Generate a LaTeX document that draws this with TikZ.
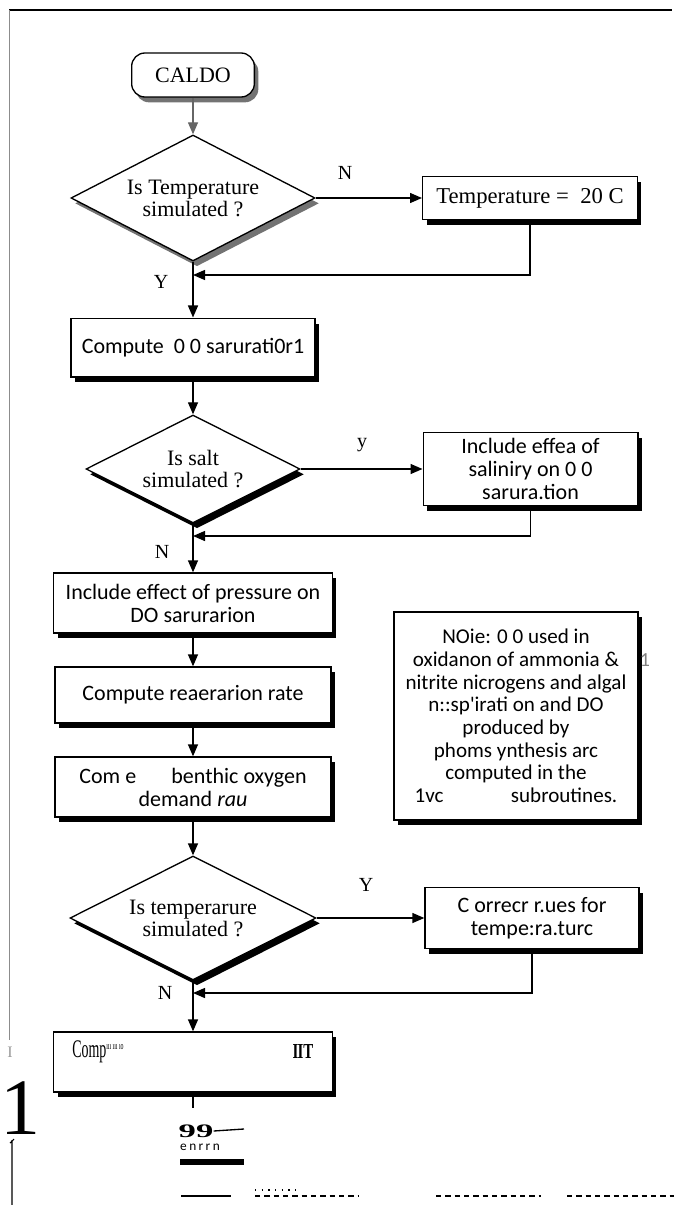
\documentclass[tikz,border=0pt]{standalone}
\usepackage{fontspec}
\setmainfont{Liberation Serif}
\newfontfamily\boxfont{Carlito}
\newfontfamily\spacedfont[LetterSpace=18]{Carlito}
\usepackage{graphicx}
\usetikzlibrary{positioning,shapes.geometric,arrows.meta,shadows}

\tikzset{
  flowline/.style={line width=1pt},
  flowarrow/.style={line width=1pt,-{Triangle[length=9pt,width=7.5pt]}},
  darkshadow/.style={drop shadow={shadow xshift=3pt,shadow yshift=-4pt,fill=black,opacity=1}},
  greyshadow/.style={drop shadow={shadow xshift=3pt,shadow yshift=-4pt,fill=black!55,opacity=1}},
  procbox/.style={draw,line width=1pt,fill=white,darkshadow,align=center,inner sep=0pt,
    font=\boxfont\fontsize{16.5}{17.25}\selectfont},
  decision/.style={diamond,draw,line width=1pt,fill=white,aspect=1.9,inner sep=0pt,align=center,
    font=\fontsize{16.5}{16.5}\selectfont},
  yn/.style={font=\fontsize{15}{16}\selectfont}
}

\begin{document}
\begin{tikzpicture}[x=0.75pt,y=0.75pt,yscale=-1,xscale=1]
\useasboundingbox (0,0) rectangle (684,1205);

%Shape: page frame
\draw [line width=1pt] (9,10) -- (672,10) ;
\draw [black!45,line width=0.6pt] (9,10) -- (9,1040) ;

%Shape: Terminator
\node [draw,line width=1pt,fill=white,rounded corners=10pt,greyshadow,minimum width=92pt,minimum height=33pt,
  font=\fontsize{16.5}{16.5}\selectfont] (caldo) at (193,75) {CALDO};
%Shape: Diamond
\node [decision,greyshadow,minimum width=183pt,minimum height=94.5pt] (temqry) at (193,198) {Is Temperature\\simulated ?};
%Shape: Rectangle
\node [procbox,font=\fontsize{17}{17}\selectfont,minimum width=161pt,minimum height=32pt] (tempset) at (530,198) {Temperature =\ \ 20 C};
\coordinate (jointa) at (193,275);
%Shape: Rectangle
\node [procbox,minimum width=183pt,minimum height=44pt] (dosat) at (193,347.5) {Compute\ \ 0 0 sarurati0r1};
%Shape: Diamond
\node [decision,darkshadow,minimum width=160.5pt,minimum height=81pt] (saltqry) at (193,469) {Is salt\\simulated ?};
%Shape: Rectangle
\node [procbox,minimum width=161pt,minimum height=55pt] (salin) at (530.5,469) {Include effea of\\saliniry on 0 0\\sarura.tion};
\coordinate (jointb) at (193,536);
%Shape: Rectangle
\node [procbox,minimum width=209pt,minimum height=45pt] (press) at (193,603) {Include effect of pressure on\\DO sarurarion};
%Shape: Rectangle
\node [procbox,minimum width=207pt,minimum height=42pt] (reaer) at (193,695) {Compute reaerarion rate};
%Shape: Rectangle
\node [procbox,minimum width=207pt,minimum height=45pt] (benth) at (193,787) {Com e\hspace{1.6em}benthic oxygen\\demand \textit{rau}};
%Shape: Rectangle
\node [procbox,minimum width=183pt,minimum height=156pt,font=\boxfont\fontsize{15.8}{17}\selectfont] (note) at (516,716)
  {NOie: 0 0 used in\\oxidanon of ammonia \&\\nitrite nicrogens and algal\\n::sp'irati on and DO\\produced by\\phoms ynthesis arc\\computed in the\\1vc\hspace{3.2em}subroutines.};
%Shape: Diamond
\node [decision,darkshadow,minimum width=184.5pt,minimum height=93pt] (tempqry) at (193,918) {Is temperarure\\simulated ?};
%Shape: Rectangle
\node [procbox,minimum width=160.5pt,minimum height=46pt] (corr) at (532,918) {C orrecr r.ues for\\tempe:ra.turc};
\coordinate (jointc) at (193,993);
%Shape: Rectangle
\node [procbox,minimum width=209pt,minimum height=45pt] (final) at (193,1062) {};
\coordinate (finalend) at (193,1108);

% Connectors
\draw [flowarrow,draw=black!60] (caldo) -- (temqry) ;
\draw [flowarrow] (temqry.east) -- (temqry.east -| tempset.west) ;
\draw [flowline] (temqry.south) -- (jointa) ;
\draw [flowarrow] (tempset.south) |- (jointa) ;
\draw [flowarrow] (jointa) -- (dosat) ;
\draw [flowarrow] (dosat) -- (saltqry) ;
\draw [flowarrow] (saltqry.east) -- (saltqry.east -| salin.west) ;
\draw [flowline] (saltqry.south) -- (jointb) ;
\draw [flowarrow] (salin.south) |- (jointb) ;
\draw [flowarrow] (jointb) -- (press) ;
\draw [flowarrow] (press) -- (reaer) ;
\draw [flowarrow] (reaer) -- (benth) ;
\draw [flowarrow] (benth) -- (tempqry) ;
\draw [flowarrow] (tempqry.east) -- (tempqry.east -| corr.west) ;
\draw [flowline] (tempqry.south) -- (jointc) ;
\draw [flowarrow] (corr.south) |- (jointc) ;
\draw [flowarrow] (jointc) -- (final) ;
\draw [flowline] (final) -- (finalend) ;

% Text Node
\node [yn] (lbln) at (345,173) {N};
% Text Node
\node [yn] (lbly) at (161,282) {Y};
% Text Node
\node [yn] (lblsy) at (362,445) {y};
% Text Node
\node [yn] (lblsn) at (162,552) {N};
% Text Node
\node [yn] (lblty) at (366,885) {Y};
% Text Node
\node [yn] (lbltn) at (165,993) {N};
% Text Node
\node [black!50,font=\boxfont\fontsize{15}{16}\selectfont] (stray) at (645,660) {1};
% Text Node
\node [anchor=west,inner sep=0pt,font=\fontsize{19}{19}\selectfont] (comptxt) at (72,1052)
  {\scalebox{0.55}[1]{Comp\textsuperscript{\fontsize{8}{8}\selectfont ııı ııı ıo}}};
% Text Node
\node [inner sep=0pt,font=\fontsize{16}{16}\selectfont\bfseries] (iit) at (303,1052) {\scalebox{0.7}[1]{I\kern-1pt IT}};
% Text Node
\node [black!40,font=\fontsize{12}{12}\selectfont] (smalli) at (10,1052) {I};
% Text Node
\node [font=\fontsize{60}{60}\selectfont] (bigone) at (20,1108) {1};
% Text Node
\node [inner sep=0pt,font=\fontsize{26}{26}\selectfont\bfseries] (quote) at (196,1131) {\scalebox{1}[0.55]{99}};
% Text Node
\node [inner sep=0pt,font=\spacedfont\fontsize{10}{10}\selectfont] (enrrn) at (200,1147) {enrrn};

%Shape: scan marks
\draw [line width=1pt] (quote.east) -- (244,1129) ;
\fill (180,1159) rectangle (244,1165) ;
\draw [line width=0.8pt] (12,1140) -- (12,1205) (10,1143) -- (14,1139) ;
\draw [line width=1pt] (181,1196) -- (231,1196) ;
\draw [line width=0.8pt,dash pattern=on 4pt off 3pt] (255,1196) -- (358,1196) (436,1196) -- (541,1196) (567,1196) -- (674,1196) ;
\draw [line width=0.8pt,dash pattern=on 1pt off 4pt] (255,1190) -- (300,1190) ;
\end{tikzpicture}
\end{document}
